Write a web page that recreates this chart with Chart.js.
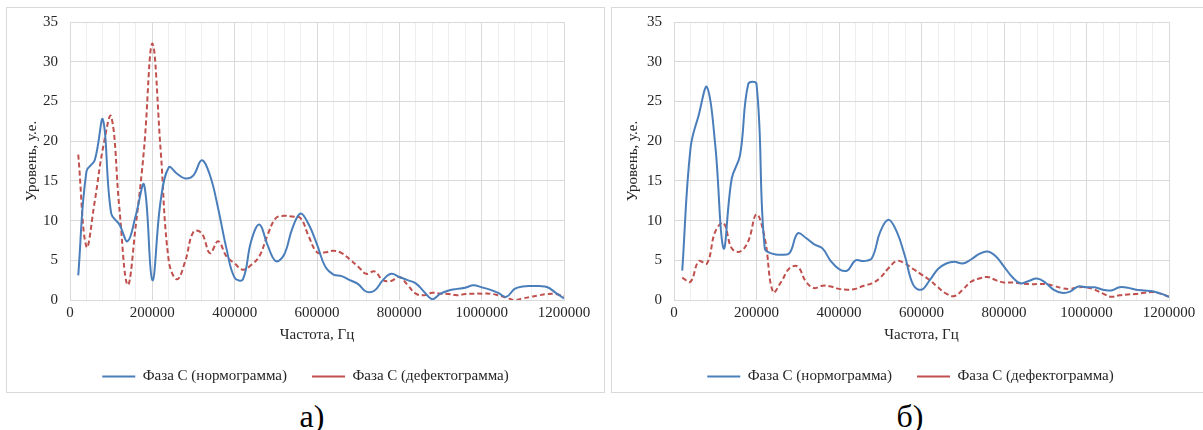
<!DOCTYPE html>
<html>
<head>
<meta charset="utf-8">
<script src="https://cdn.jsdelivr.net/npm/chart.js@4.4.1/dist/chart.umd.min.js"></script>
<style>
  html, body { margin: 0; padding: 0; background: #fff; }
  body { width: 1203px; height: 430px; position: relative; overflow: hidden; font-family: 'Liberation Serif', 'Times New Roman', serif; }
  .panel { position: absolute; top: 7px; height: 386px; width: 599px; border: 1px solid #d9d9d9; box-sizing: border-box; background: #fff; }
  .panel canvas { display: block; }
  .lbl { position: absolute; top: 398px; width: 60px; text-align: center; font-size: 32px; line-height: normal; color: #000; }
</style>
</head>
<body>
<div class="panel" style="left:6px"><canvas id="chartA" width="597" height="384"></canvas></div>
<div class="panel" style="left:611px"><canvas id="chartB" width="597" height="384"></canvas></div>
<div class="lbl" style="left:282px">а)</div>
<div class="lbl" style="left:880px">б)</div>
<script>
// ---- data ----
const freq = [20000, 40000, 60000, 80000, 100000, 120000, 140000, 160000, 180000, 200000,
  220000, 240000, 260000, 280000, 300000, 320000, 340000, 360000, 380000, 400000,
  420000, 440000, 460000, 480000, 500000, 520000, 540000, 560000, 580000, 600000,
  620000, 640000, 660000, 680000, 700000, 720000, 740000, 760000, 780000, 800000,
  820000, 840000, 860000, 880000, 900000, 920000, 940000, 960000, 980000, 1000000,
  1020000, 1040000, 1060000, 1080000, 1100000, 1120000, 1140000, 1160000, 1180000, 1200000];

// panel а) — normogram
const normA = [3.1, 16.2, 17.6, 22.7, 10.9, 9.5, 7.4, 10.7, 14.5, 2.5,
  12.4, 16.7, 15.9, 15.3, 15.7, 17.6, 15.7, 11.5, 6.5, 2.8,
  2.6, 7.4, 9.5, 6.9, 4.9, 5.7, 9.0, 10.9, 9.5, 7.0,
  4.2, 3.2, 3.0, 2.5, 2.0, 1.05, 1.2, 2.5, 3.3, 2.9,
  2.5, 2.1, 1.05, 0.1, 0.8, 1.2, 1.4, 1.55, 1.85, 1.6,
  1.3, 0.9, 0.4, 1.4, 1.7, 1.75, 1.75, 1.6, 0.9, 0.2];
// panel а) — defectogram
const defA = [18.3, 6.7, 12.4, 19.1, 23.1, 11.5, 1.9, 9.5, 19.1, 32.3,
  19.0, 4.9, 2.6, 4.9, 8.6, 8.4, 5.9, 7.4, 5.5, 4.6,
  3.8, 4.4, 5.5, 8.2, 10.3, 10.6, 10.5, 10.3, 8.0, 6.0,
  6.0, 6.2, 5.9, 5.1, 4.2, 3.3, 3.6, 2.5, 2.4, 2.9,
  1.9, 0.8, 0.6, 0.9, 0.8, 0.75, 0.6, 0.75, 0.8, 0.8,
  0.8, 0.6, 0.3, 0.0, 0.2, 0.4, 0.6, 0.75, 0.75, 0.5];
// panel б) — normogram
const normB = [3.7, 19.1, 23.3, 26.8, 19.5, 6.5, 15.3, 18.2, 27.2, 27.2,
  6.5, 5.8, 5.7, 5.9, 8.4, 7.8, 7.0, 6.5, 4.9, 3.9,
  3.7, 5.0, 4.9, 5.3, 8.6, 10.1, 8.6, 5.5, 1.9, 1.3,
  2.5, 3.9, 4.6, 4.8, 4.6, 5.1, 5.8, 6.1, 5.5, 4.2,
  2.9, 2.1, 2.4, 2.7, 2.2, 1.3, 0.9, 1.05, 1.7, 1.6,
  1.6, 1.3, 1.2, 1.6, 1.55, 1.3, 1.2, 1.1, 0.8, 0.4];
// panel б) — defectogram
const defB = [2.8, 2.3, 4.9, 4.6, 8.6, 9.7, 6.5, 6.1, 7.4, 10.8,
  7.8, 1.0, 2.3, 4.0, 4.2, 2.3, 1.5, 1.8, 1.7, 1.4,
  1.3, 1.4, 1.8, 2.1, 2.8, 4.0, 4.9, 4.6, 3.9, 3.2,
  2.5, 1.6, 0.8, 0.5, 1.3, 2.3, 2.7, 2.9, 2.5, 2.2,
  2.2, 2.1, 2.0, 2.0, 2.0, 1.8, 1.5, 1.4, 1.6, 1.6,
  1.3, 0.8, 0.4, 0.6, 0.7, 0.75, 0.9, 1.0, 0.8, 0.4];

const seriesNames = ['Фаза С (нормограмма)', 'Фаза С (дефектограмма)'];
const xTitle = 'Частота, Гц';
const yTitle = 'Уровень, у.е.';
const xTickLabels = [0, 200000, 400000, 600000, 800000, 1000000, 1200000];
const xMinorGrid = [0, 40000, 80000, 120000, 160000, 200000, 240000, 280000, 320000, 360000,
  400000, 440000, 480000, 520000, 560000, 600000, 640000, 680000, 720000, 760000,
  800000, 840000, 880000, 920000, 960000, 1000000, 1040000, 1080000, 1120000, 1160000, 1200000];
const yTickLabels = [0, 5, 10, 15, 20, 25, 30, 35];

// ---- drawing ----
const FONT = "'Liberation Serif', 'Times New Roman', serif";
const TXT = '#262626';

function pts(vals) { return freq.map((f, i) => ({ x: f, y: vals[i] })); }

function makeChart(id, norm, def, yAxisW, yTitlePad) {
  return new Chart(document.getElementById(id), {
    type: 'line',
    data: {
      datasets: [
        { label: seriesNames[0], data: pts(norm), borderColor: '#4A7EBB', backgroundColor: '#4A7EBB',
          borderWidth: 2, pointRadius: 0, tension: 0.4, fill: false },
        { label: seriesNames[1], data: pts(def), borderColor: '#C0504D', backgroundColor: '#C0504D',
          borderWidth: 2, borderDash: [5, 3], pointRadius: 0, tension: 0.4, fill: false }
      ]
    },
    options: {
      responsive: false, animation: false, devicePixelRatio: 1,
      events: [],
      layout: { padding: { left: 0, right: 0, top: 14, bottom: 0 } },
      plugins: {
        tooltip: { enabled: false },
        legend: {
          position: 'bottom', maxHeight: 48,
          labels: { usePointStyle: true, pointStyle: 'line', pointStyleWidth: 33, padding: 25,
                    color: TXT, font: { family: FONT, size: 15 } }
        }
      },
      scales: {
        x: {
          type: 'linear', min: 0, max: 1200000,
          afterBuildTicks: s => { s.ticks = xMinorGrid.map(v => ({ value: v })); },
          afterFit: s => { s.height = 44; s.paddingRight = 40; },
          ticks: { autoSkip: false, maxRotation: 0, minRotation: 0, padding: 4, color: TXT,
                   font: { family: FONT, size: 15 },
                   callback: v => xTickLabels.includes(v) ? String(v) : '' },
          grid: { drawTicks: false, lineWidth: 1,
                  color: c => (c.tick && xTickLabels.includes(c.tick.value)) ? '#d9d9d9' : '#eeeeee' },
          border: { color: '#d9d9d9' },
          title: { display: true, text: xTitle, color: TXT, font: { family: FONT, size: 15 },
                   padding: { top: 0, bottom: 0 } }
        },
        y: {
          min: 0, max: 35,
          afterBuildTicks: s => { s.ticks = yTickLabels.map(v => ({ value: v })); },
          afterFit: s => { s.width = yAxisW; s.paddingTop = 0; s.paddingBottom = 0; },
          ticks: { padding: 12, color: TXT, font: { family: FONT, size: 15 } },
          grid: { drawTicks: false, color: '#d9d9d9', lineWidth: 1 },
          border: { color: '#d9d9d9' },
          title: { display: true, text: yTitle, color: TXT, font: { family: FONT, size: 15 },
                   padding: { top: yTitlePad, bottom: 0 } }
        }
      }
    }
  });
}

makeChart('chartA', normA, defA, 63, 16);
makeChart('chartB', normB, defB, 62, 12);
</script>
</body>
</html>
